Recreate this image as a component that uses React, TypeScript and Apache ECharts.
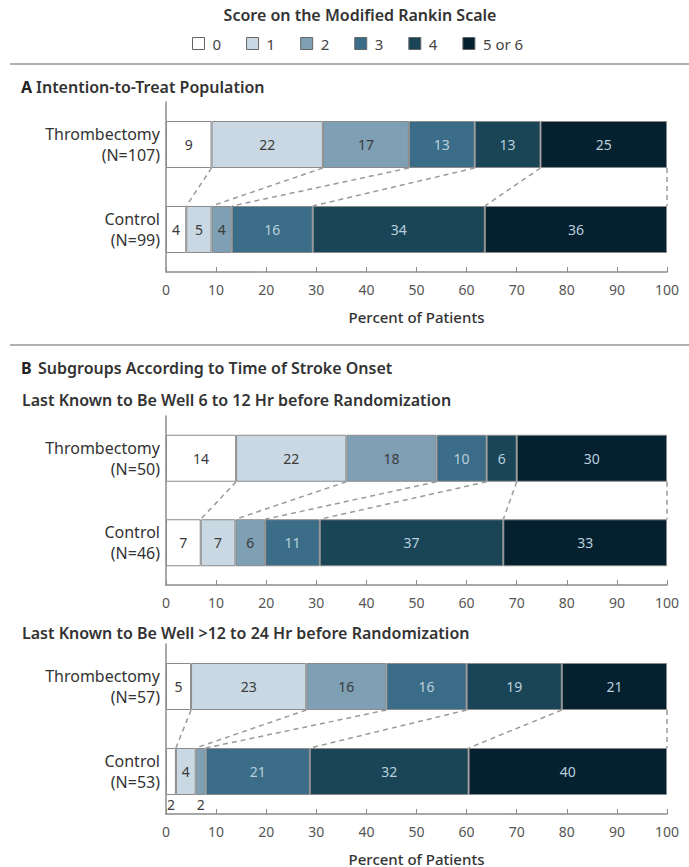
import React, { useEffect, useRef } from 'react';
import * as echarts from 'echarts';

const scoreNames = ['0', '1', '2', '3', '4', '5 or 6'];
const scoreColors = ['#ffffff', '#c9d8e2', '#7f9fb4', '#3b6d88', '#1a4557', '#05212f'];
const labelColors = ['#3a3a3a', '#3a3a3a', '#3a3a3a', '#b9cfdc', '#b9cfdc', '#b9cfdc'];

const rowsA = ['Thrombectomy\n(N=107)', 'Control\n(N=99)'];
const thrombA = [9, 22, 17, 13, 13, 25];
const controlA = [4, 5, 4, 16, 34, 36];

const rowsB1 = ['Thrombectomy\n(N=50)', 'Control\n(N=46)'];
const thrombB1 = [14, 22, 18, 10, 6, 30];
const controlB1 = [7, 7, 6, 11, 37, 33];

const rowsB2 = ['Thrombectomy\n(N=57)', 'Control\n(N=53)'];
const thrombB2 = [5, 23, 16, 16, 19, 21];
const controlB2 = [2, 4, 2, 21, 32, 40];

const xMin = 0;
const xMax = 100;
const xInterval = 10;

const FONT = '"Noto Sans", "Open Sans", sans-serif';
const BAR_W = 47;

const panels = [
  { rows: rowsA, top: thrombA, bottom: controlA, gridTop: 102, gridHeight: 170, axisName: 'Percent of Patients' },
  { rows: rowsB1, top: thrombB1, bottom: controlB1, gridTop: 416, gridHeight: 169, axisName: '' },
  { rows: rowsB2, top: thrombB2, bottom: controlB2, gridTop: 644, gridHeight: 170, axisName: 'Percent of Patients' },
];

function normalize(arr: number[]) {
  const s = arr.reduce((a, b) => a + b, 0);
  return arr.map((v) => (v / s) * 100);
}

function cumulative(arr: number[]) {
  const out: number[] = [];
  let acc = 0;
  arr.forEach((v) => {
    acc += v;
    out.push(acc);
  });
  return out;
}

export default function App() {
  const ref = useRef<HTMLDivElement>(null);

  useEffect(() => {
    if (!ref.current) return;
    const chart = echarts.init(ref.current, null, { renderer: 'svg' });

    const grids: any[] = [];
    const xAxes: any[] = [];
    const yAxes: any[] = [];
    const series: any[] = [];

    panels.forEach((p, g) => {
      grids.push({ left: 166, right: 22, top: p.gridTop, height: p.gridHeight });
      xAxes.push({
        type: 'value',
        gridIndex: g,
        min: xMin,
        max: xMax,
        interval: xInterval,
        name: p.axisName,
        nameLocation: 'middle',
        nameGap: 37,
        nameTextStyle: { fontFamily: FONT, fontSize: 15, color: '#333', fontWeight: 500 },
        axisLine: { show: true, lineStyle: { color: '#8c8c8c', width: 1.5 } },
        axisTick: { show: true, inside: true, length: 5, lineStyle: { color: '#8c8c8c' } },
        axisLabel: { fontFamily: FONT, fontSize: 14, color: '#555', margin: 10 },
        splitLine: { show: false },
      });
      yAxes.push({
        type: 'category',
        gridIndex: g,
        inverse: true,
        data: p.rows,
        axisLine: { show: true, lineStyle: { color: '#8c8c8c', width: 1.5 } },
        axisTick: { show: false },
        axisLabel: {
          fontFamily: FONT,
          fontSize: 16,
          color: '#333',
          lineHeight: 21,
          align: 'right',
          margin: 6,
        },
      });

      const topN = normalize(p.top);
      const botN = normalize(p.bottom);

      scoreNames.forEach((name, k) => {
        const mk = (raw: number, val: number) => {
          const small = raw <= 2;
          return {
            value: val,
            label: small
              ? {
                  show: true,
                  formatter: String(raw),
                  position: 'bottom',
                  distance: 2,
                  color: '#3a3a3a',
                }
              : { show: true, formatter: String(raw) },
          };
        };
        series.push({
          type: 'bar',
          name,
          stack: 'panel' + g,
          xAxisIndex: g,
          yAxisIndex: g,
          barWidth: BAR_W,
          itemStyle: { color: scoreColors[k], borderColor: '#8a8a8a', borderWidth: 1 },
          label: {
            show: true,
            position: 'inside',
            fontFamily: FONT,
            fontSize: 14,
            color: labelColors[k],
          },
          emphasis: { disabled: true },
          data: [mk(p.top[k], topN[k]), mk(p.bottom[k], botN[k])],
        });
      });

      const topC = cumulative(topN);
      const botC = cumulative(botN);
      const links = topC.map((v, i) => [v, botC[i], 0]);
      series.push({
        type: 'custom',
        name: 'links' + g,
        xAxisIndex: g,
        yAxisIndex: g,
        clip: false,
        silent: true,
        encode: { x: 0, y: 2 },
        data: links,
        renderItem: (params: any, api: any) => {
          const a = api.coord([api.value(0), 0]);
          const b = api.coord([api.value(1), 1]);
          const half = BAR_W / 2;
          return {
            type: 'line',
            shape: { x1: a[0], y1: a[1] + half, x2: b[0], y2: b[1] - half },
            style: { stroke: '#9a9a9a', lineWidth: 1.5, lineDash: [5, 4], fill: null },
          };
        },
      });
    });

    const titleStyle = { fontFamily: FONT, fontSize: 16, fontWeight: 600, fill: '#333', verticalAlign: 'middle' };

    const option: any = {
      animation: false,
      backgroundColor: '#ffffff',
      textStyle: { fontFamily: FONT },
      legend: {
        data: scoreNames,
        left: 192,
        top: 36,
        padding: 0,
        itemWidth: 12,
        itemHeight: 12,
        itemGap: 25,
        icon: 'rect',
        selectedMode: false,
        itemStyle: { borderColor: '#666', borderWidth: 1 },
        textStyle: { fontFamily: FONT, fontSize: 15, color: '#444', padding: [0, 0, 0, 3] },
      },
      grid: grids,
      xAxis: xAxes,
      yAxis: yAxes,
      series,
      graphic: [
        {
          type: 'text',
          x: 360,
          y: 15,
          style: { ...titleStyle, text: 'Score on the Modified Rankin Scale', align: 'center' },
        },
        { type: 'rect', shape: { x: 10, y: 63, width: 679, height: 2 }, style: { fill: '#b0b0b0' } },
        { type: 'text', x: 21, y: 87, style: { ...titleStyle, text: 'A', fontWeight: 'bold', fill: '#222' } },
        { type: 'text', x: 36, y: 87, style: { ...titleStyle, text: 'Intention-to-Treat Population' } },
        { type: 'rect', shape: { x: 10, y: 344, width: 679, height: 2 }, style: { fill: '#b0b0b0' } },
        { type: 'text', x: 21, y: 368, style: { ...titleStyle, text: 'B', fontWeight: 'bold', fill: '#222' } },
        { type: 'text', x: 38, y: 368, style: { ...titleStyle, text: 'Subgroups According to Time of Stroke Onset' } },
        { type: 'text', x: 22, y: 400, style: { ...titleStyle, text: 'Last Known to Be Well 6 to 12 Hr before Randomization' } },
        { type: 'text', x: 22, y: 633, style: { ...titleStyle, text: 'Last Known to Be Well >12 to 24 Hr before Randomization' } },
      ],
    };

    chart.setOption(option);
    return () => {
      chart.dispose();
    };
  }, []);

  return (
    <div
      ref={ref}
      style={{ position: 'fixed', left: 0, top: 0, width: 689, height: 867, background: '#fff' }}
    />
  );
}
